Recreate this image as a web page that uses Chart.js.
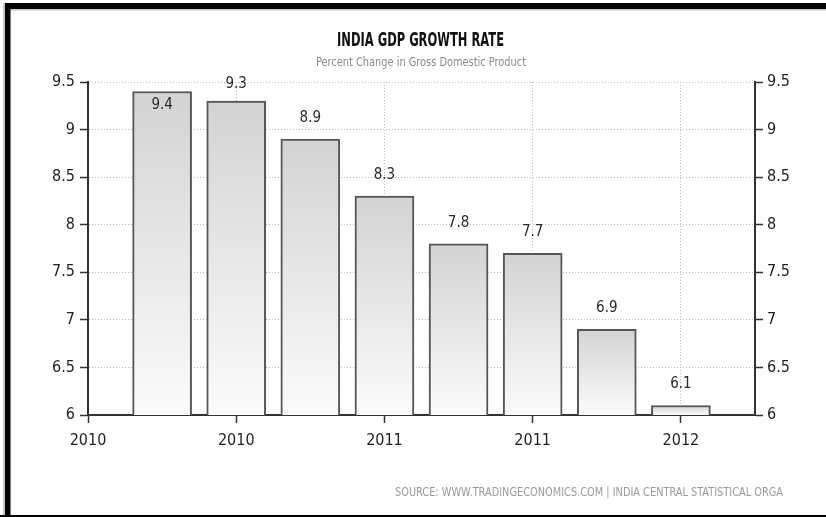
<!DOCTYPE html>
<html>
<head>
<meta charset="utf-8">
<title>India GDP Growth Rate</title>
<script src="https://cdn.jsdelivr.net/npm/chart.js@4.4.1/dist/chart.umd.min.js"></script>
<style>
  html, body { margin: 0; padding: 0; background: #fff; overflow: hidden; }
  #wrap { position: relative; width: 826px; height: 517px; }
  canvas { display: block; }
</style>
</head>
<body>
<div id="wrap"><canvas id="gdp" width="826" height="517"></canvas></div>
<script>
// Quarterly GDP growth, percent change
const growthRate = [9.4, 9.3, 8.9, 8.3, 7.8, 7.7, 6.9, 6.1];
// Year labels under the time axis and where they sit (bar index units)
const xTickLabels = ['2010', '2010', '2011', '2011', '2012'];
const xTickPositions = [-1, 1, 3, 5, 7];
const yTickValues = [6, 6.5, 7, 7.5, 8, 8.5, 9, 9.5];

const titleText = 'INDIA GDP GROWTH RATE';
const subtitleText = 'Percent Change in Gross Domestic Product';
const sourceText = 'SOURCE: WWW.TRADINGECONOMICS.COM | INDIA CENTRAL STATISTICAL ORGA';

const NARROW = "'DejaVu Sans Condensed', 'DejaVu Sans', sans-serif";

// Text squeezed horizontally to a set width, like the condensed header fonts
function fitText(ctx, text, font, color, cx, baseline, width) {
  ctx.save();
  ctx.font = font;
  ctx.fillStyle = color;
  ctx.textAlign = 'center';
  ctx.textBaseline = 'alphabetic';
  const w = ctx.measureText(text).width;
  const sx = width / w;
  ctx.translate(cx, baseline);
  ctx.scale(sx, 1);
  ctx.fillText(text, 0, 0);
  ctx.restore();
}

const framePlugin = {
  id: 'frame',
  beforeDraw(chart) {
    const c = chart.ctx;
    c.save();
    c.fillStyle = '#fff';
    c.fillRect(0, 0, chart.width, chart.height);
    c.fillStyle = '#c8c8c8';
    c.fillRect(3, 3, 2, 514);
    c.fillRect(5, 9, chart.width, 1.5);
    c.fillStyle = '#000';
    c.fillRect(5, 3, 5.5, 514);
    c.fillRect(5, 3, chart.width, 6);
    c.fillRect(0, 515, chart.width, 2);
    c.restore();
  },
  afterDraw(chart) {
    const c = chart.ctx;
    fitText(c, titleText, 'bold 19px ' + NARROW, '#111', 420.5, 46, 167);
    fitText(c, subtitleText, '12px ' + NARROW, '#8a8a8a', 421, 66, 210);
    fitText(c, sourceText, '12px ' + NARROW, '#9a9a9a', 589, 496, 388);
  }
};

const valueLabels = {
  id: 'valueLabels',
  afterDatasetsDraw(chart) {
    const c = chart.ctx;
    const top = chart.chartArea.top;
    const meta = chart.getDatasetMeta(0);
    c.save();
    c.font = '15px ' + NARROW;
    c.fillStyle = '#2a2a2a';
    c.textAlign = 'center';
    c.textBaseline = 'middle';
    meta.data.forEach((bar, i) => {
      let y = bar.y - 21;
      if (y < top - 5) y = bar.y + 14;
      else y = Math.max(y, top + 2);
      c.fillText(String(growthRate[i]), bar.x, y);
    });
    c.restore();
  }
};

const gridStyle = {
  color: '#bcbcbc',
  lineWidth: 1,
  tickColor: '#333',
  tickLength: 8,
  tickWidth: 1.5,
  offset: false
};
const borderStyle = { color: '#333', width: 2, dash: [1, 2] };
const tickFont = { family: NARROW, size: 16 };

new Chart(document.getElementById('gdp'), {
  type: 'bar',
  data: {
    datasets: [{
      data: growthRate.map((v, i) => ({ x: i, y: v })),
      barThickness: 59,
      borderWidth: 2,
      borderColor: '#555',
      borderSkipped: 'start',
      backgroundColor(ctx) {
        const chart = ctx.chart;
        if (!chart.chartArea || ctx.type !== 'data') return '#e2e2e2';
        const ys = chart.scales.y;
        const t = ys.getPixelForValue(ctx.raw.y);
        const b = ys.getPixelForValue(ys.min);
        const g = chart.ctx.createLinearGradient(0, t, 0, b);
        g.addColorStop(0, '#d3d3d3');
        g.addColorStop(1, '#fbfbfb');
        return g;
      }
    }]
  },
  options: {
    responsive: false,
    animation: false,
    events: [],
    layout: { padding: { top: 82, left: 0, right: 0, bottom: 0 } },
    plugins: { legend: { display: false }, tooltip: { enabled: false }, title: { display: false } },
    scales: {
      x: {
        type: 'linear',
        offset: false,
        min: -1,
        max: 8,
        afterBuildTicks(s) { s.ticks = xTickPositions.map(v => ({ value: v })); },
        afterFit(s) { s.height = 102; },
        grid: gridStyle,
        border: borderStyle,
        ticks: {
          font: tickFont,
          color: '#1e1e28',
          padding: 8,
          maxRotation: 0,
          autoSkip: false,
          callback: (v, i) => xTickLabels[i]
        }
      },
      y: {
        position: 'left',
        min: 6,
        max: 9.5,
        afterBuildTicks(s) { s.ticks = yTickValues.map(v => ({ value: v })); },
        afterFit(s) { s.width = 88; },
        grid: gridStyle,
        border: borderStyle,
        ticks: { font: tickFont, color: '#1e1e28', padding: 5, callback: v => String(v) }
      },
      y2: {
        position: 'right',
        min: 6,
        max: 9.5,
        afterBuildTicks(s) { s.ticks = yTickValues.map(v => ({ value: v })); },
        afterFit(s) { s.width = 71; },
        grid: Object.assign({}, gridStyle, { drawOnChartArea: false }),
        border: borderStyle,
        ticks: { font: tickFont, color: '#1e1e28', padding: 4, callback: v => String(v) }
      }
    }
  },
  plugins: [framePlugin, valueLabels]
});
</script>
</body>
</html>
